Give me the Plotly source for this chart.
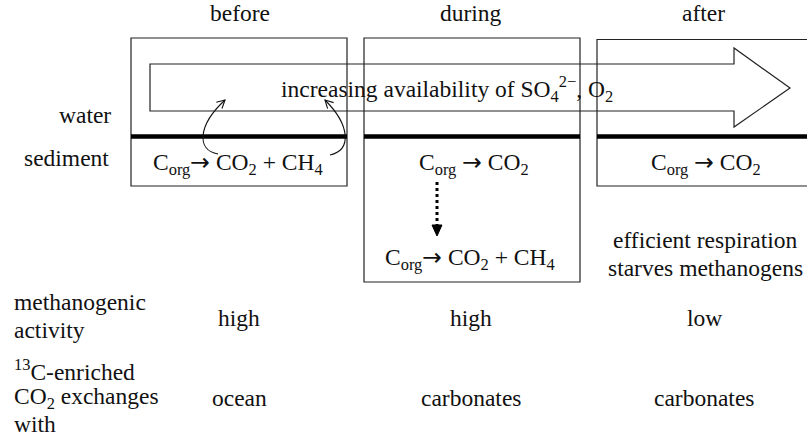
import math
import plotly.graph_objects as go

# ---------------- data (text content) ----------------
ARW = '<span style="font-family:DejaVu Sans">→</span>'
phases = ["before", "during", "after"]
methanogenic_activity = ["high", "high", "low"]
co2_exchange_partner = ["ocean", "carbonates", "carbonates"]
sediment_reactions = [
    "C<sub>org</sub>" + ARW + " CO<sub>2</sub> + CH<sub>4</sub>",
    "C<sub>org</sub> " + ARW + " CO<sub>2</sub>",
    "C<sub>org</sub> " + ARW + " CO<sub>2</sub>",
]
during_later_reaction = "C<sub>org</sub>" + ARW + " CO<sub>2</sub> + CH<sub>4</sub>"
after_note = ["efficient respiration", "starves methanogens"]
arrow_label = "increasing availability of SO<sub>4</sub><sup>2−</sup>, O<sub>2</sub>"
layer_labels = ["water", "sediment"]
row_label_methano = ["methanogenic", "activity"]
row_label_exchange = ["<sup>13</sup>C-enriched", "CO<sub>2</sub> exchanges", "with"]

# ---------------- layout constants ----------------
W, H = 807, 443
FONT = "Liberation Serif, Times New Roman, serif"
FS = 23.5
INK = "#111111"

box_x = [(131, 347), (364, 580), (597, 820)]
box_top = [38, 38, 39.5]
box_bottom = [186, 282, 186]
interface_y = 136.5
col_x = [239, 471, 704]

fig = go.Figure()
fig.add_trace(go.Scatter(x=[0], y=[0], mode="markers", marker=dict(opacity=0),
                         showlegend=False, hoverinfo="skip"))

shapes = []
annotations = []


def ann(text, x, y, xanchor="center", size=FS):
    annotations.append(dict(text=text, x=x, y=y, xref="x", yref="y",
                            xanchor=xanchor, yanchor="middle", showarrow=False,
                            font=dict(family=FONT, size=size, color=INK)))


# boxes + sediment/water interface
for (x0, x1), t, b in zip(box_x, box_top, box_bottom):
    shapes.append(dict(type="rect", x0=x0, x1=x1, y0=t, y1=b, xref="x", yref="y",
                       line=dict(color="#222222", width=1.2)))
    shapes.append(dict(type="line", x0=x0, x1=x1, y0=interface_y, y1=interface_y,
                       xref="x", yref="y", line=dict(color="black", width=4.5)))

# big open arrow
ax0, ax1, ay0, ay1 = 150, 734, 64, 111
head_top, head_bot, tip_x = 48, 127, 790
tip_y = (ay0 + ay1) / 2 + 0.5
arrow_path = (f"M{ax0},{ay0} L{ax1},{ay0} L{ax1},{head_top} L{tip_x},{tip_y} "
              f"L{ax1},{head_bot} L{ax1},{ay1} L{ax0},{ay1} Z")
shapes.append(dict(type="path", path=arrow_path, xref="x", yref="y",
                   line=dict(color="#222222", width=1.2)))


def open_head(tx, ty, dx, dy, length=9, ang=28):
    n = math.hypot(dx, dy)
    ux, uy = dx / n, dy / n
    pts = []
    for s in (1, -1):
        a = math.radians(ang * s)
        rx = ux * math.cos(a) - uy * math.sin(a)
        ry = ux * math.sin(a) + uy * math.cos(a)
        pts.append((tx - length * rx, ty - length * ry))
    return (f"M{pts[0][0]:.1f},{pts[0][1]:.1f} L{tx},{ty} "
            f"L{pts[1][0]:.1f},{pts[1][1]:.1f}")


# curved arrows (gas release from sediment)
curves = [((218, 154), (196, 150), (198, 125), (225, 100)),
          ((330, 155), (352, 150), (350, 125), (325, 100))]
for p0, c1, c2, p3 in curves:
    shapes.append(dict(type="path", xref="x", yref="y",
                       path=f"M{p0[0]},{p0[1]} C{c1[0]},{c1[1]} {c2[0]},{c2[1]} {p3[0]},{p3[1]}",
                       line=dict(color=INK, width=1.1)))
    shapes.append(dict(type="path", xref="x", yref="y",
                       path=open_head(p3[0], p3[1], p3[0] - c2[0], p3[1] - c2[1]),
                       line=dict(color=INK, width=1.1)))

# dotted arrow in "during" box
dx_ = 437
shapes.append(dict(type="line", x0=dx_, x1=dx_, y0=182, y1=226, xref="x", yref="y",
                   line=dict(color="black", width=3, dash="dot")))
shapes.append(dict(type="path", xref="x", yref="y",
                   path=f"M{dx_-5},{225} L{dx_+5},{225} L{dx_},{236} Z",
                   fillcolor="black", line=dict(color="black", width=1)))

# titles
for name, x in zip(phases, [240, 471, 703]):
    ann(name, x, 13)

# arrow label
ann(arrow_label, 447, 89)

# layer labels
ann(layer_labels[0], 113, 115, xanchor="right")
ann(layer_labels[1], 111, 158, xanchor="right")

# reactions
for txt, x in zip(sediment_reactions, [238, 474, 706]):
    ann(txt, x, 163)
ann(during_later_reaction, 470, 258)

# after note
ann(after_note[0], 705, 240)
ann(after_note[1], 705, 268)

# row labels
for txt, y in zip(row_label_methano, [302, 330]):
    ann(txt, 12, y, xanchor="left")
for txt, y in zip(row_label_exchange, [370, 398, 424]):
    ann(txt, 12, y, xanchor="left")

# row values
for val, x in zip(methanogenic_activity, col_x):
    ann(val, x, 318)
for val, x in zip(co2_exchange_partner, col_x):
    ann(val, x, 398)

fig.update_layout(
    width=W, height=H,
    margin=dict(l=0, r=0, t=0, b=0),
    paper_bgcolor="white", plot_bgcolor="white",
    xaxis=dict(range=[0, W], visible=False, fixedrange=True),
    yaxis=dict(range=[H, 0], visible=False, fixedrange=True),
    shapes=shapes, annotations=annotations, showlegend=False,
)

fig.write_html("out.html", config={"displayModeBar": False},
               post_script="document.body.style.margin='0';document.body.style.padding='0';")
